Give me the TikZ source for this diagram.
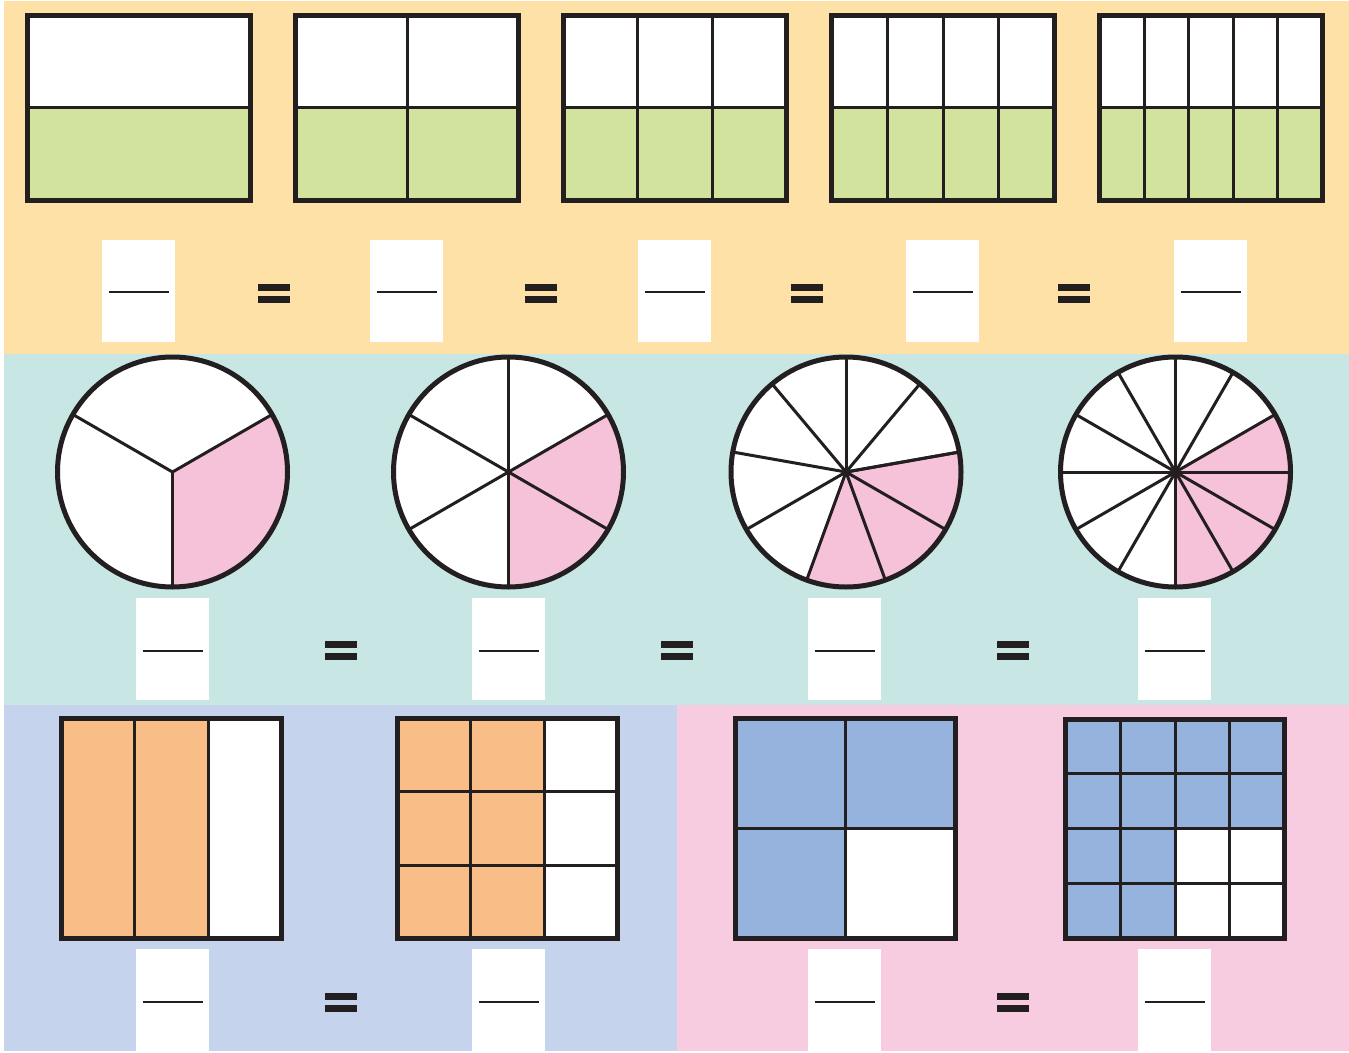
\documentclass[tikz,border=0pt]{standalone}
\definecolor{ink}{HTML}{231F20}
\definecolor{bgbeige}{HTML}{FEE1A7}
\definecolor{bgteal}{HTML}{C8E7E4}
\definecolor{bgblue}{HTML}{C5D3EC}
\definecolor{bgpink}{HTML}{F8CCE0}
\definecolor{fgreen}{HTML}{D1E39D}
\definecolor{fpink}{HTML}{F6C2D9}
\definecolor{forange}{HTML}{F9BD87}
\definecolor{fblue}{HTML}{95B3DD}
\tikzset{
  heavy/.style={draw=ink,line width=5pt},
  divider/.style={draw=ink,line width=3pt},
  fracbox/.style={rectangle,fill=white,draw=none,minimum width=73pt,minimum height=102pt,inner sep=0pt},
  fracline/.style={draw=ink,line width=2.5pt},
  eqsign/.pic={\fill[ink] (-16,-9.5) rectangle (16,-2.5); \fill[ink] (-16,2.5) rectangle (16,9.5);}
}
\begin{document}
\begin{tikzpicture}[x=1pt,y=-1pt]
\useasboundingbox (0,0) rectangle (1349,1052);
\fill[white] (0,0) rectangle (1349,1052);
% background bands
\fill[bgbeige] (4,1) rectangle (1349,354);
\fill[bgteal] (4,354) rectangle (1349,705);
\fill[bgblue] (4,705) rectangle (677,1051);
\fill[bgpink] (677,705) rectangle (1349,1051);

% ---------- Row 1: rectangles with 1..5 columns ----------
\foreach \i/\n in {0/1,1/2,2/3,3/4,4/5} {
  \pgfmathsetmacro{\xl}{27.5+268*\i}
  \pgfmathsetmacro{\xr}{\xl+223}
  \fill[white] (\xl,15.5) rectangle (\xr,107);
  \fill[fgreen] (\xl,107) rectangle (\xr,200);
  \draw[divider] (\xl,107) -- (\xr,107);
  \ifnum\n>1
    \foreach \k in {2,...,\n} {
      \pgfmathsetmacro{\xd}{\xl+(\k-1)*223/\n}
      \draw[divider] (\xd,15.5) -- (\xd,200);
    }
  \fi
  \draw[heavy] (\xl,15.5) rectangle (\xr,200);
}

% fraction boxes row 1
\foreach \x [count=\c] in {138.5,406.5,674.5,942.5,1210.5} {
  \node[fracbox] (a\c) at (\x,291) {};
  \draw[fracline] (a\c.center) ++(-30,1) -- ++(60,0);
}
\foreach \x in {274,541,807,1074} { \pic at (\x,293) {eqsign}; }

% ---------- Row 2: circles ----------
\def\R{115}
% circle 1 (thirds)
\begin{scope}[shift={(172.5,472)}]
  \fill[white] (0,0) circle (\R);
  \fill[fpink] (0,0) -- (90:\R) arc[start angle=90,end angle=-30,radius=\R] -- cycle;
  \foreach \a in {30,150,270} \draw[divider] (0,0) -- ({-\a}:\R);
  \draw[heavy] (0,0) circle (\R);
\end{scope}
% circle 2 (sixths)
\begin{scope}[shift={(508.5,472)}]
  \fill[white] (0,0) circle (\R);
  \fill[fpink] (0,0) -- (90:\R) arc[start angle=90,end angle=-30,radius=\R] -- cycle;
  \foreach \a in {30,90,...,330} \draw[divider] (0,0) -- ({-\a}:\R);
  \draw[heavy] (0,0) circle (\R);
\end{scope}
% circle 3 (ninths)
\begin{scope}[shift={(846,472)}]
  \fill[white] (0,0) circle (\R);
  \fill[fpink] (0,0) -- (110:\R) arc[start angle=110,end angle=-10,radius=\R] -- cycle;
  \foreach \a in {10,50,...,370} \draw[divider] (0,0) -- ({-\a}:\R);
  \draw[heavy] (0,0) circle (\R);
\end{scope}
% circle 4 (twelfths)
\begin{scope}[shift={(1175.5,472)}]
  \fill[white] (0,0) circle (\R);
  \fill[fpink] (0,0) -- (90:\R) arc[start angle=90,end angle=-30,radius=\R] -- cycle;
  \foreach \a in {0,30,...,330} \draw[divider] (0,0) -- ({-\a}:\R);
  \fill[ink] (0,0) circle (3.5);
  \draw[heavy] (0,0) circle (\R);
\end{scope}

% fraction boxes row 2
\foreach \x [count=\c] in {172.5,508.5,844.5,1174.5} {
  \node[fracbox] (b\c) at (\x,649) {};
  \draw[fracline] (b\c.center) ++(-30,2) -- ++(60,0);
}
\foreach \x in {340.5,676.5,1012.5} { \pic at (\x,650.5) {eqsign}; }

% ---------- Row 3: area models ----------
% A: thirds (2 orange)
\fill[white] (61.5,718.5) rectangle (281.5,938.5);
\fill[forange] (61.5,718.5) rectangle ({61.5+2*220/3},938.5);
\foreach \k in {1,2} \draw[divider] ({61.5+\k*220/3},718.5) -- ({61.5+\k*220/3},938.5);
\draw[heavy] (61.5,718.5) rectangle (281.5,938.5);
% B: 3x3 (2 columns orange)
\fill[white] (397.5,718.5) rectangle (617.5,938.5);
\fill[forange] (397.5,718.5) rectangle ({397.5+2*220/3},938.5);
\foreach \k in {1,2} {
  \draw[divider] ({397.5+\k*220/3},718.5) -- ({397.5+\k*220/3},938.5);
  \draw[divider] (397.5,{718.5+\k*220/3}) -- (617.5,{718.5+\k*220/3});
}
\draw[heavy] (397.5,718.5) rectangle (617.5,938.5);
% C: 2x2 (3 blue)
\fill[fblue] (735.5,718.5) rectangle (955.5,938.5);
\fill[white] (845.5,828.5) rectangle (955.5,938.5);
\draw[divider] (845.5,718.5) -- (845.5,938.5);
\draw[divider] (735.5,828.5) -- (955.5,828.5);
\draw[heavy] (735.5,718.5) rectangle (955.5,938.5);
% D: 4x4 (12 blue)
\fill[fblue] (1065.5,719) rectangle (1284.5,938.5);
\fill[white] ({1065.5+2*219/4},{719+2*219.5/4}) rectangle (1284.5,938.5);
\foreach \k in {1,2,3} {
  \draw[divider] ({1065.5+\k*219/4},719) -- ({1065.5+\k*219/4},938.5);
  \draw[divider] (1065.5,{719+\k*219.5/4}) -- (1284.5,{719+\k*219.5/4});
}
\draw[heavy] (1065.5,719) rectangle (1284.5,938.5);

% fraction boxes row 3
\foreach \x [count=\c] in {172.5,508.5,844.5,1174.5} {
  \node[fracbox] (c\c) at (\x,999.5) {};
  \draw[fracline] (c\c.center) ++(-30,2.5) -- ++(60,0);
}
\foreach \x in {340.5,1012.5} { \pic at (\x,1002) {eqsign}; }
\end{tikzpicture}
\end{document}
